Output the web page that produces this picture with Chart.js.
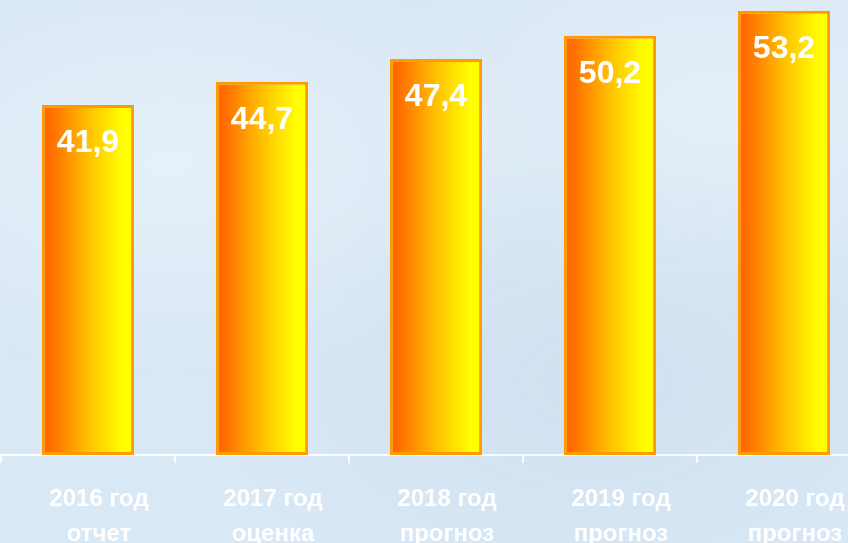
<!DOCTYPE html>
<html>
<head>
<meta charset="utf-8">
<script src="https://cdn.jsdelivr.net/npm/chart.js@4/dist/chart.umd.min.js"></script>
<style>
  html, body { margin: 0; padding: 0; overflow: hidden; width: 848px; height: 543px; }
  body {
    background-color: #d9e8f5;
    background-image:
      radial-gradient(ellipse at 20% 30%, rgba(255,255,255,0.35), rgba(255,255,255,0) 40%),
      radial-gradient(ellipse at 70% 70%, rgba(190,210,230,0.35), rgba(190,210,230,0) 45%),
      radial-gradient(ellipse at 85% 20%, rgba(255,255,255,0.3), rgba(255,255,255,0) 35%);
  }
  #wrap { position: absolute; left: 0; top: 0; width: 880px; height: 543px; }
</style>
</head>
<body>
<div id="wrap"><canvas id="forecastchart"></canvas></div>
<script>
const categories = [
    ["2016 год", "отчет"],
    ["2017 год", "оценка"],
    ["2018 год", "прогноз"],
    ["2019 год", "прогноз"],
    ["2020 год", "прогноз"]
];
const values = [41.9, 44.7, 47.4, 50.2, 53.2];

const barPct = 0.53;
const forecastChart = document.getElementById("forecastchart");

// horizontal orange -> yellow fill for each bar
function barGradient(context) {
    const chart = context.chart;
    const xs = chart.scales.x;
    if (!chart.chartArea || !xs) return "#ff9900";
    const cx = xs.getPixelForValue(context.dataIndex);
    const half = (xs.width / categories.length) * barPct / 2;
    const g = chart.ctx.createLinearGradient(cx - half, 0, cx + half, 0);
    g.addColorStop(0, "#ff6600");
    g.addColorStop(0.1, "#ff6e00");
    g.addColorStop(0.5, "#ffc000");
    g.addColorStop(0.88, "#ffff00");
    g.addColorStop(1, "#ffff00");
    return g;
}

// value labels inside the top of each bar
const valueLabels = {
    id: "valueLabels",
    afterDatasetsDraw(chart) {
        const ctx = chart.ctx;
        ctx.save();
        ctx.fillStyle = "#ffffff";
        ctx.font = "bold 32px 'Liberation Sans', Arial, sans-serif";
        ctx.textAlign = "center";
        ctx.textBaseline = "alphabetic";
        chart.getDatasetMeta(0).data.forEach((bar, i) => {
            ctx.fillText(values[i].toFixed(1).replace(".", ","), bar.x, bar.y + 47);
        });
        ctx.restore();
    }
};

const forecastChartInstance = new Chart(forecastChart, {
    type: "bar",
    data: {
        labels: categories,
        datasets: [
            {
                data: values,
                backgroundColor: barGradient,
                borderColor: "#ff9a00",
                borderWidth: 3,
                borderSkipped: false,
                barPercentage: barPct,
                categoryPercentage: 1
            }
        ]
    },
    options: {
        responsive: true,
        maintainAspectRatio: false,
        animation: false,
        layout: { padding: { top: 4, left: 1, right: 9, bottom: 0 } },
        plugins: {
            legend: { display: false },
            tooltip: { enabled: false }
        },
        scales: {
            x: {
                offset: true,
                border: { display: true, color: "rgba(255,255,255,0.85)", width: 2 },
                grid: {
                    offset: true,
                    drawOnChartArea: false,
                    drawTicks: true,
                    tickLength: 8,
                    color: "rgba(255,255,255,0.85)",
                    lineWidth: 2
                },
                ticks: {
                    color: "#ffffff",
                    padding: 19,
                    labelOffset: 11,
                    maxRotation: 0,
                    autoSkip: false,
                    font: { family: "'Liberation Sans', Arial, sans-serif", size: 24, weight: "bold", lineHeight: 1.46 }
                },
                afterFit(scale) { scale.height = 88; }
            },
            y: {
                display: false,
                min: 0,
                max: 54
            }
        }
    },
    plugins: [valueLabels]
});
</script>
</body>
</html>
